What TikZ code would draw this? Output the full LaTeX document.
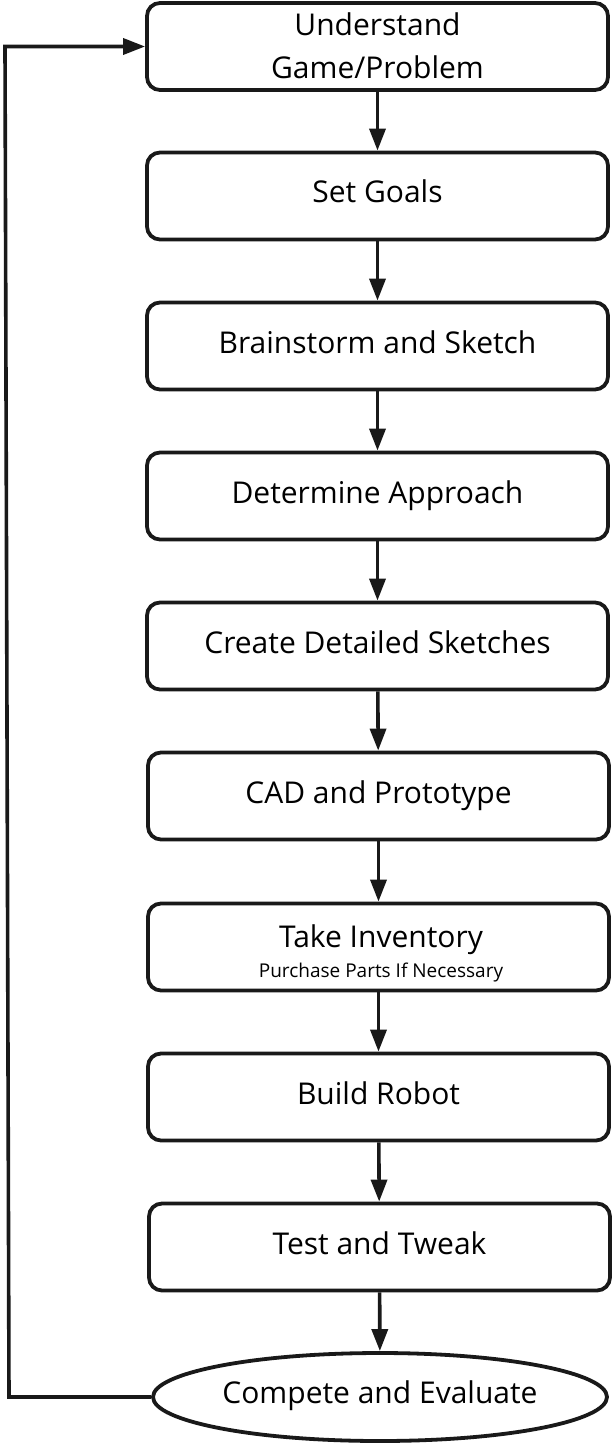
\documentclass[tikz,border=0pt]{standalone}
\usepackage{fontspec}
\setmainfont{Open Sans}
\usetikzlibrary{arrows.meta,shapes.geometric}
\tikzset{
  stepbox/.style={draw=black!90, line width=3.8pt, rounded corners=13pt, minimum width=461pt, minimum height=87pt, inner sep=0pt, align=center, font=\fontsize{30}{36}\selectfont, text height=23pt, text depth=9pt, fill=white},
  endbox/.style={draw=black!90, line width=3.8pt, ellipse, minimum width=454pt, minimum height=88pt, inner sep=0pt, font=\fontsize{30}{36}\selectfont, text height=22pt, text depth=10pt},
  lbl/.style={anchor=base, inner sep=0pt, font=\fontsize{30}{36}\selectfont},
  sublbl/.style={anchor=base, inner sep=0pt, font=\fontsize{19}{22}\selectfont},
  flow/.style={line width=3.6pt, draw=black!90, -{Triangle[length=22pt,width=16pt]}},
}
\begin{document}
\begin{tikzpicture}[x=1pt,y=-1pt]
\useasboundingbox (0,0) rectangle (612,1450);
\node[stepbox] (b1) at (377.5,46.5) {};
\node[lbl] (b1a) at (377.5,36) {Understand};
\node[lbl] (b1b) at (377.5,79) {Game/Problem};
\node[stepbox] (b2) at (377.5,196) {Set Goals};
\node[stepbox] (b3) at (377.5,346) {Brainstorm and Sketch};
\node[stepbox] (b4) at (377.5,496) {Determine Approach};
\node[stepbox] (b5) at (377.5,646) {Create Detailed Sketches};
\node[stepbox] (b6) at (378.5,796) {CAD and Prototype};
\node[stepbox] (b7) at (378.5,947) {};
\node[lbl] (b7t) at (381,947) {Take Inventory};
\node[sublbl] (b7s) at (381,977) {Purchase Parts If Necessary};
\node[stepbox] (b8) at (378.5,1097) {Build Robot};
\node[stepbox] (b9) at (379.5,1247) {Test and Tweak};
\node[endbox] (e) at (380,1397) {Compete and Evaluate};
\draw[flow] (b1) -- (b2);
\draw[flow] (b2) -- (b3);
\draw[flow] (b3) -- (b4);
\draw[flow] (b4) -- (b5);
\draw[flow] (b5) -- (b6);
\draw[flow] (b6) -- (b7);
\draw[flow] (b7) -- (b8);
\draw[flow] (b8) -- (b9);
\draw[flow] (b9) -- (e);
\coordinate (c1) at (9,1397);
\coordinate (c2) at (5,46.5);
\draw[flow] (e.west) -- (c1) -- (c2) -- (b1.west);
\end{tikzpicture}
\end{document}
